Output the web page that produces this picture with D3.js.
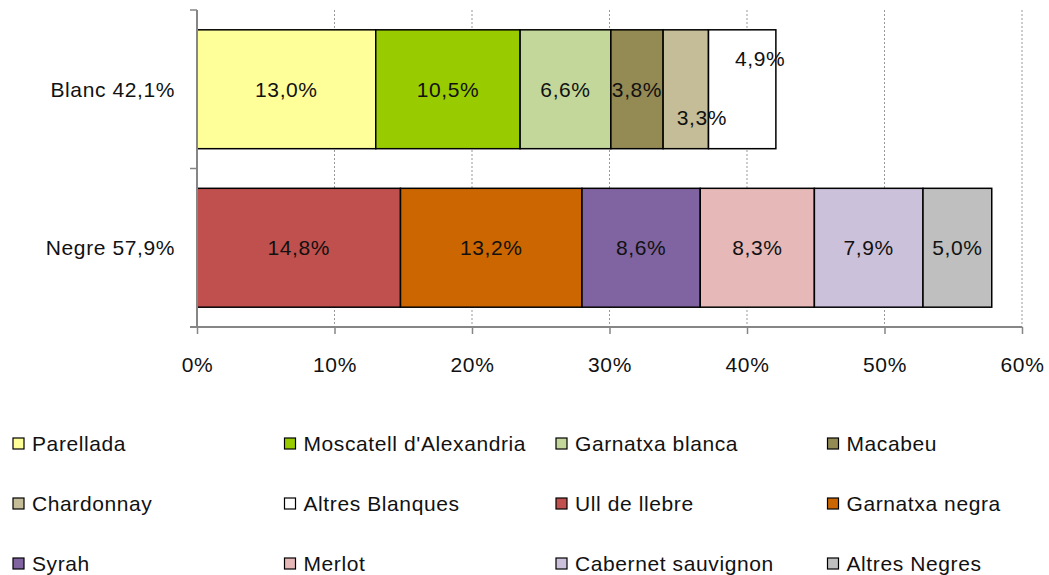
<!DOCTYPE html>
<html>
<head>
<meta charset="utf-8">
<script src="https://cdn.jsdelivr.net/npm/d3@7"></script>
<style>
  body { margin: 0; background: #fff; }
  text { font-family: "Liberation Sans", Arial, sans-serif; letter-spacing: 0.6px; }
</style>
</head>
<body>
<div id="graphArea"></div>
<script>
// data
var categories = ["Blanc", "Negre"]
var categoryLabels = ["Blanc 42,1%", "Negre 57,9%"]
var seriesNames = ["Parellada", "Moscatell d'Alexandria", "Garnatxa blanca", "Macabeu",
  "Chardonnay", "Altres Blanques", "Ull de llebre", "Garnatxa negra",
  "Syrah", "Merlot", "Cabernet sauvignon", "Altres Negres"]
var blancValues = [13.0, 10.5, 6.6, 3.8, 3.3, 4.9, 0, 0, 0, 0, 0, 0]
var negreValues = [0, 0, 0, 0, 0, 0, 14.8, 13.2, 8.6, 8.3, 7.9, 5.0]
var xTicks = [0, 10, 20, 30, 40, 50, 60]
var seriesColors = ["#FFFF99", "#99CC00", "#C4D79B", "#948A54", "#C4BD97", "#FFFFFF",
  "#C0504D", "#CC6600", "#8064A2", "#E6B9B8", "#CCC1DA", "#BFBFBF"]

// excel put a couple of labels off-centre
var labelShift = { "Chardonnay": [16, 28], "Altres Blanques": [18, -31] }

var width = 1049, height = 575
var fontSize = "21px"

var svg = d3.select("#graphArea").append("svg")
  .attr("width", width)
  .attr("height", height)

var x = d3.scaleLinear().domain([0, 60]).range([197, 1022])
var y = d3.scaleBand().domain(categories).range([10, 327])
  .paddingInner(0.25).paddingOuter(0.125)

// gridlines
svg.append("g")
  .selectAll("line")
  .data(xTicks.slice(1))
  .enter()
  .append("line")
    .attr("x1", function(d) { return x(d) })
    .attr("x2", function(d) { return x(d) })
    .attr("y1", 10)
    .attr("y2", 327)
    .attr("stroke", "#999")
    .attr("stroke-width", 1)
    .attr("stroke-dasharray", "2,2")

// stacked segments
var rows = categories.map(function(c, ci) {
  var vals = ci == 0 ? blancValues : negreValues
  var start = 0
  var segs = []
  for (var i = 0; i < seriesNames.length; i++) {
    if (vals[i] > 0) {
      segs.push({ cat: c, name: seriesNames[i], color: seriesColors[i], x0: start, x1: start + vals[i], v: vals[i] })
      start += vals[i]
    }
  }
  return segs
})
var segs = rows[0].concat(rows[1])

svg.append("g")
  .selectAll("rect")
  .data(segs)
  .enter()
  .append("rect")
    .attr("x", function(d) { return x(d.x0) })
    .attr("y", function(d) { return y(d.cat) })
    .attr("width", function(d) { return x(d.x1) - x(d.x0) })
    .attr("height", y.bandwidth())
    .attr("fill", function(d) { return d.color })
    .attr("stroke", "#000")
    .attr("stroke-width", 1.5)

svg.append("g")
  .selectAll("text")
  .data(segs)
  .enter()
  .append("text")
    .attr("x", function(d) { return (x(d.x0) + x(d.x1)) / 2 + (labelShift[d.name] ? labelShift[d.name][0] : 0) })
    .attr("y", function(d) { return y(d.cat) + y.bandwidth() / 2 + (labelShift[d.name] ? labelShift[d.name][1] : 0) })
    .attr("dy", "0.35em")
    .attr("text-anchor", "middle")
    .style("font-size", fontSize)
    .attr("fill", "#111")
    .text(function(d) { return d.v.toFixed(1).replace(".", ",") + "%" })

// x axis
var xAxis = svg.append("g")
  .attr("transform", "translate(0,327)")
  .call(d3.axisBottom(x).tickValues(xTicks).tickSize(7).tickPadding(23)
    .tickFormat(function(d) { return d + "%" }))
xAxis.select(".domain").attr("stroke", "#868686").attr("stroke-width", 2)
  .attr("d", "M190,0H" + x(60))
xAxis.selectAll(".tick line").attr("stroke", "#868686").attr("stroke-width", 1.5)
xAxis.selectAll(".tick text").style("font-size", fontSize).attr("fill", "#111")
  .style("font-family", '"Liberation Sans", Arial, sans-serif')

// y axis
var yAxis = svg.append("g").attr("transform", "translate(197,0)")
yAxis.append("line")
  .attr("x1", 0).attr("x2", 0).attr("y1", 10).attr("y2", 327)
  .attr("stroke", "#868686").attr("stroke-width", 2)
var yTickPos = [10, 10 + y.step(), 327]
yAxis.selectAll(".ytick")
  .data(yTickPos)
  .enter()
  .append("line")
    .attr("x1", -7).attr("x2", 0)
    .attr("y1", function(d) { return d }).attr("y2", function(d) { return d })
    .attr("stroke", "#868686").attr("stroke-width", 1.5)
yAxis.selectAll(".ylab")
  .data(categories)
  .enter()
  .append("text")
    .attr("x", -22)
    .attr("y", function(d) { return y(d) + y.bandwidth() / 2 })
    .attr("dy", "0.35em")
    .attr("text-anchor", "end")
    .style("font-size", fontSize)
    .attr("fill", "#111")
    .text(function(d, i) { return categoryLabels[i] })

// legend
var legend = svg.append("g")
  .selectAll("g")
  .data(seriesNames)
  .enter()
  .append("g")
    .attr("transform", function(d, i) {
      return "translate(" + (13 + (i % 4) * 271.5) + "," + (438 + Math.floor(i / 4) * 60) + ")"
    })
legend.append("rect")
  .attr("width", 11).attr("height", 11)
  .attr("fill", function(d, i) { return seriesColors[i] })
  .attr("stroke", "#000").attr("stroke-width", 1.2)
legend.append("text")
  .attr("x", 19)
  .attr("y", 6)
  .attr("dy", "0.35em")
  .style("font-size", fontSize)
  .attr("fill", "#111")
  .text(function(d) { return d })
</script>
</body>
</html>
